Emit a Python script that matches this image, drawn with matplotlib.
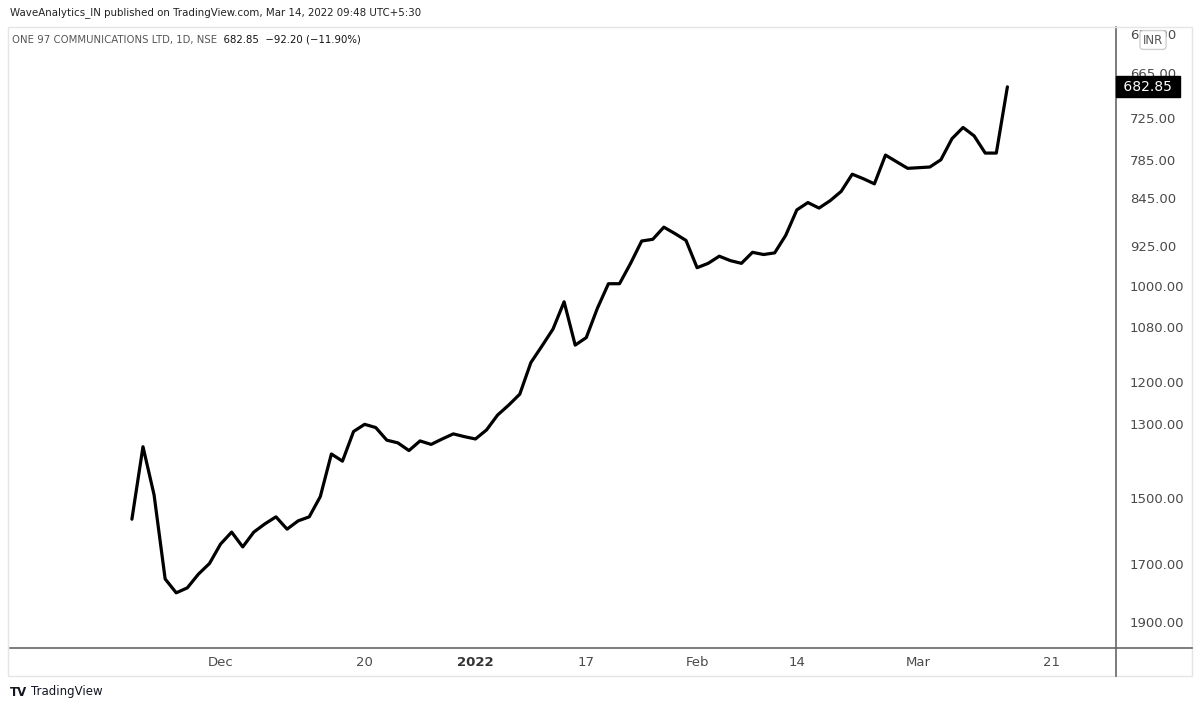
import matplotlib
matplotlib.use("Agg")
import matplotlib.pyplot as plt
import matplotlib.transforms as mtransforms
from matplotlib.patches import Rectangle
from matplotlib.lines import Line2D
from matplotlib.ticker import FixedLocator, FixedFormatter, NullLocator

# daily closes, ONE 97 COMMUNICATIONS (NSE)
closes = [1561, 1359, 1490, 1750, 1797, 1780, 1734, 1699, 1637, 1600,
          1646, 1600, 1575, 1554, 1591, 1566, 1554, 1495, 1378, 1397,
          1320, 1302, 1310, 1342, 1349, 1369, 1344, 1353, 1339, 1326,
          1333, 1339, 1316, 1279, 1255, 1229, 1157, 1121, 1085, 1030,
          1119, 1103, 1043, 995, 995, 957, 917, 914, 893, 904,
          916, 965, 957, 944, 952, 957, 937, 941, 938, 907,
          864, 852, 861, 849, 834, 807, 814, 822, 778, 788,
          798, 797, 796, 785, 754, 738, 750, 775.05, 775.05, 682.85]
bars = list(range(len(closes)))

price_ticks = [617, 665, 725, 785, 845, 925, 1000, 1080, 1200, 1300, 1500, 1700, 1900]
time_tick_bars = [8, 21, 31, 41, 51, 60, 71, 83]
time_tick_labels = ["Dec", "20", "2022", "17", "Feb", "14", "Mar", "21"]

last = closes[-1]
change = last - closes[-2]
pct = change / closes[-2] * 100

W, H = 1200, 710
fig = plt.figure(figsize=(12, 7.1), dpi=100)
fig.patch.set_facecolor("white")

def fx(px):
    return px / W

def fy(py):
    return 1 - py / H

# light outer frame of the chart pane
fig.add_artist(Rectangle((fx(8), fy(676)), fx(1192) - fx(8), fy(27) - fy(676),
                         transform=fig.transFigure, fill=False, ec="#e3e5ea", lw=1))

ax = fig.add_axes([fx(10), fy(648), fx(1116) - fx(10), fy(27) - fy(648)])
ax.plot(bars, closes, color="black", lw=2.3, solid_joinstyle="round",
        solid_capstyle="round", zorder=3)

ax.set_yscale("log")
ax.set_ylim(1997, 609)   # inverted price scale
ax.set_xlim(-11.0, 88.8)

ax.yaxis.tick_right()
ax.yaxis.set_major_locator(FixedLocator(price_ticks))
ax.yaxis.set_major_formatter(FixedFormatter([f"{p:.2f}" for p in price_ticks]))
ax.yaxis.set_minor_locator(NullLocator())
ax.tick_params(axis="y", length=0, pad=10, labelsize=9.5, labelcolor="#4a4a4a")

ax.xaxis.set_major_locator(FixedLocator(time_tick_bars))
ax.xaxis.set_major_formatter(FixedFormatter(time_tick_labels))
ax.tick_params(axis="x", length=0, pad=6, labelsize=9.5, labelcolor="#4a4a4a")
for lbl in ax.get_xticklabels():
    if lbl.get_text() == "2022":
        lbl.set_fontweight("bold")
        lbl.set_color("#333333")

for s in ["left", "top"]:
    ax.spines[s].set_visible(False)
ax.spines["right"].set_color("#666666")
ax.spines["bottom"].set_color("#666666")
ax.spines["right"].set_linewidth(1.2)
ax.spines["bottom"].set_linewidth(1.2)

# price axis line continues through the time scale row
fig.add_artist(Line2D([fx(1116), fx(1116)], [fy(648), fy(676)],
                      transform=fig.transFigure, color="#666666", lw=1.2))
fig.add_artist(Line2D([fx(1116), fx(1192)], [fy(648), fy(648)],
                      transform=fig.transFigure, color="#666666", lw=1.2))

# last price label
trans = mtransforms.blended_transform_factory(ax.transAxes, ax.transData)
ax.text(1.003, last, f" {last:.2f} ", transform=trans, ha="left", va="center",
        fontsize=10, color="white", clip_on=False, zorder=5,
        bbox=dict(boxstyle="square,pad=0.25", fc="black", ec="black"))

# currency badge (covers the top tick label, as in the original)
fig.text(fx(1153), fy(40), "INR", ha="center", va="center", fontsize=8.5,
         color="#555555", zorder=6,
         bbox=dict(boxstyle="round,pad=0.25,rounding_size=0.3", fc="white", ec="#cfcfcf"))

# header
fig.text(fx(10), fy(13), "WaveAnalytics_IN published on TradingView.com, Mar 14, 2022 09:48 UTC+5:30",
         ha="left", va="center", fontsize=7.4, color="#222222")
t1 = fig.text(fx(12), fy(40), "ONE 97 COMMUNICATIONS LTD, 1D, NSE", ha="left", va="center",
              fontsize=7.3, color="#555555")
plt.annotate(f"  {last:.2f}  \u2212{abs(change):.2f} (\u2212{abs(pct):.2f}%)",
             xy=(1, 0.5), xycoords=t1, ha="left", va="center",
             fontsize=7.3, color="#111111", annotation_clip=False)

# footer logo
fig.text(fx(10), fy(692), "TV", ha="left", va="center", fontsize=8.5,
         fontweight="heavy", color="#131722")
fig.text(fx(31), fy(692), "TradingView", ha="left", va="center", fontsize=8.5,
         color="#131722")

fig.savefig("out.png", dpi=100)
